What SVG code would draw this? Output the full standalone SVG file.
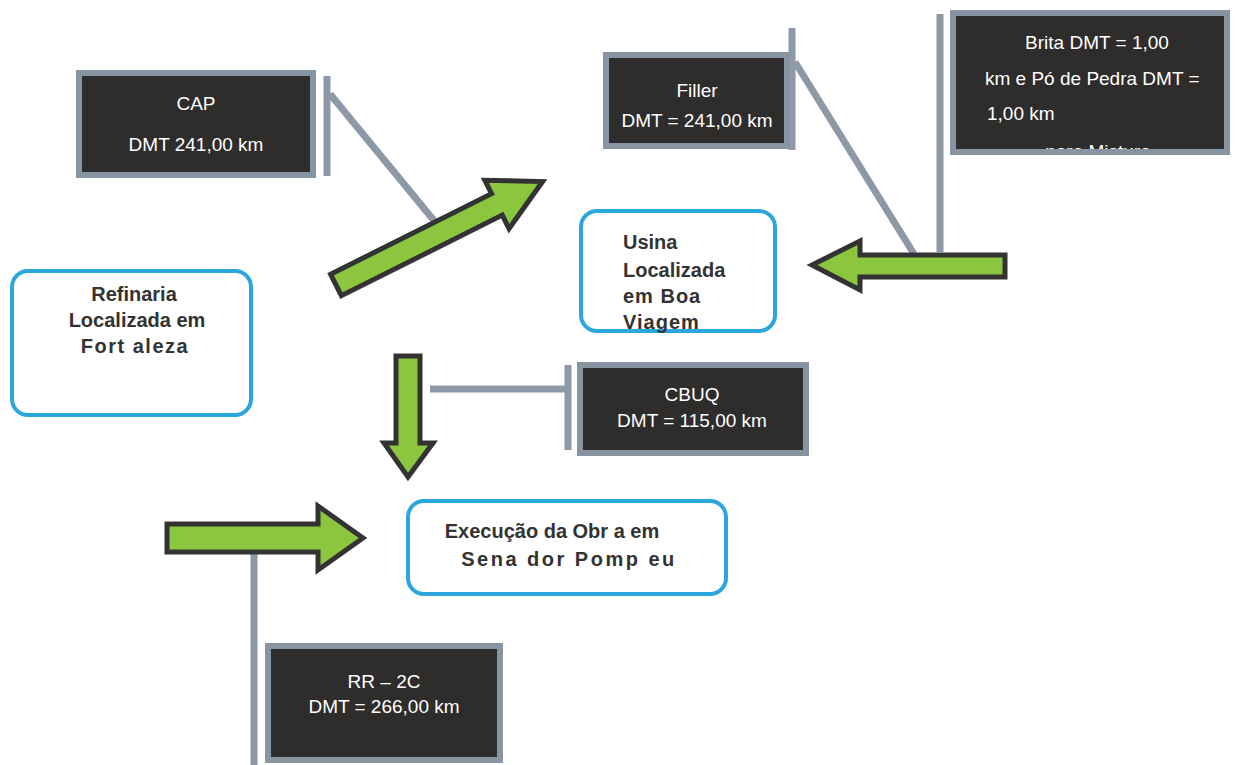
<svg xmlns="http://www.w3.org/2000/svg" width="1236" height="765" viewBox="0 0 1236 765">
<defs>
<style>
.dark{fill:#2f2c2c;stroke:#8794a1;stroke-width:6}
.wt{fill:#ffffff;font-family:"Liberation Sans",Arial,sans-serif;font-size:19px}
.blue{fill:#ffffff;stroke:#2ba7dd;stroke-width:4}
.bt{fill:#333333;font-family:"Liberation Sans",Arial,sans-serif;font-size:20px;font-weight:bold}
.arrow{fill:#8cc63f;stroke:#333333;stroke-width:5;stroke-linejoin:miter}
.conn{stroke:#8d99a6;stroke-width:7;fill:none}
</style>
<clipPath id="britaClip"><rect x="953" y="13" width="274" height="136"/></clipPath>
</defs>
<rect width="1236" height="765" fill="#ffffff"/>

<g id="connectors">
<line class="conn" x1="327" y1="76" x2="327" y2="176"/>
<line class="conn" x1="330" y1="94" x2="436" y2="223"/>
<line class="conn" x1="792" y1="28" x2="792" y2="150"/>
<line class="conn" x1="795" y1="62" x2="914" y2="254"/>
<line class="conn" x1="940" y1="14" x2="940" y2="252" stroke-width="9"/>
<line class="conn" x1="430" y1="389" x2="566" y2="389" stroke-width="11"/>
<line class="conn" x1="568" y1="365" x2="568" y2="450" stroke-width="9"/>
<line class="conn" x1="254" y1="545" x2="254" y2="765" stroke-width="9"/>
<polygon class="arrow" transform="translate(336,285) rotate(-26.6)" points="0,-12 180,-12 180,-27 231,0 180,27 180,12 0,12"/>
<polygon class="arrow" points="1005,255 860,255 860,241 812,265 860,290 860,277 1005,277"/>
<polygon class="arrow" points="396,356 420,356 420,443 433,443 408,477 384,443 396,443"/>
<polygon class="arrow" points="167,524 318,524 318,506 363,538 318,570 318,552 167,552"/>
</g>

<g id="cap">
<rect class="dark" x="79" y="73" width="234" height="102"/>
<text class="wt" x="196" y="110" text-anchor="middle">CAP</text>
<text class="wt" x="196" y="151" text-anchor="middle">DMT 241,00 km</text>
</g>

<g id="filler">
<rect class="dark" x="606" y="55" width="181" height="91"/>
<text class="wt" x="697" y="97" text-anchor="middle">Filler</text>
<text class="wt" x="697" y="127" text-anchor="middle">DMT = 241,00 km</text>
</g>

<g id="brita">
<rect class="dark" x="953" y="13" width="274" height="139"/>
<g clip-path="url(#britaClip)">
<text class="wt" x="1097" y="49" text-anchor="middle" font-size="20.5">Brita DMT = 1,00</text>
<text class="wt" x="985" y="85" font-size="20.5">km e Pó de Pedra DMT =</text>
<text class="wt" x="987" y="120" font-size="20.5">1,00 km</text>
<text class="wt" x="1098" y="158" text-anchor="middle" font-size="20.5">para Mistura</text>
</g>
</g>

<g id="refinaria">
<rect class="blue" x="12" y="271" width="239" height="144" rx="16"/>
<text class="bt" x="134" y="301" text-anchor="middle">Refinaria</text>
<text class="bt" x="137" y="327" text-anchor="middle">Localizada em</text>
<text class="bt" x="135" y="353" text-anchor="middle" letter-spacing="1.5">Fort aleza</text>
</g>

<g id="usina">
<rect class="blue" x="581" y="211" width="194" height="120" rx="16"/>
<text class="bt" x="623" y="249">Usina</text>
<text class="bt" x="623" y="277">Localizada</text>
<text class="bt" x="623" y="303" letter-spacing="1">em Boa</text>
<text class="bt" x="623" y="329" letter-spacing="1">Viagem</text>
</g>

<g id="cbuq">
<rect class="dark" x="580" y="365" width="226" height="88"/>
<text class="wt" x="692" y="401" text-anchor="middle">CBUQ</text>
<text class="wt" x="692" y="427" text-anchor="middle">DMT = 115,00 km</text>
</g>

<g id="execucao">
<rect class="blue" x="408" y="501" width="318" height="93" rx="16"/>
<text class="bt" x="552" y="538" text-anchor="middle" font-size="19">Execução da Obr a em</text>
<text class="bt" x="569" y="566" text-anchor="middle" font-size="19" letter-spacing="2.5">Sena dor Pomp eu</text>
</g>

<g id="rr2c">
<rect class="dark" x="268" y="646" width="232" height="114"/>
<text class="wt" x="384" y="688" text-anchor="middle">RR – 2C</text>
<text class="wt" x="384" y="713" text-anchor="middle">DMT = 266,00 km</text>
</g>
</svg>
